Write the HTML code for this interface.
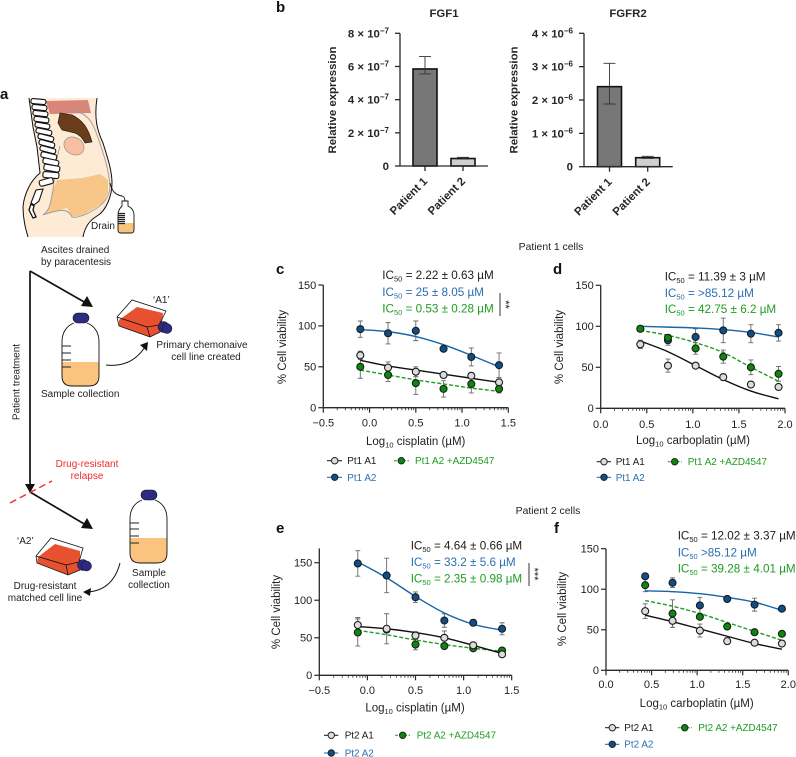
<!DOCTYPE html>
<html lang="en">
<head>
<meta charset="utf-8">
<title>FGF1 and FGFR2 expression and cell viability</title>
<style>
html,body{margin:0;padding:0;background:#fff;}
svg{display:block;font-family:"Liberation Sans",sans-serif;}
.t{font-size:10px;fill:#222;}
.tk{font-size:11px;fill:#222;}
.ax{font-size:11.5px;fill:#222;}
.ic{font-size:11.7px;}
.lg{font-size:9.9px;}
.pl{font-size:15px;font-weight:bold;fill:#111;}
.bb{font-size:11.4px;font-weight:bold;fill:#262626;}
.blk{fill:#1c1c1c;}.blu{fill:#2a6fb0;}.grn{fill:#1f9c22;}
</style>
</head>
<body>
<svg id="figure" width="796" height="757" viewBox="0 0 796 757" xmlns="http://www.w3.org/2000/svg">
<rect width="796" height="757" fill="#fff"/>

<!-- panel letters -->
<text class="pl" x="0" y="99">a</text>
<text class="pl" x="276" y="12">b</text>
<text class="pl" x="276" y="274">c</text>
<text class="pl" x="553" y="274">d</text>
<text class="pl" x="276" y="533">e</text>
<text class="pl" x="554" y="533">f</text>
<text class="t" style="font-size:10.4px" x="551" y="250" text-anchor="middle">Patient 1 cells</text>
<text class="t" style="font-size:10.4px" x="548" y="514" text-anchor="middle">Patient 2 cells</text>

<!-- panel a illustration -->
<g id="illustration">
  <path d="M29 98 L33 127 L37 147 L40 173 C31 180 24 194 23 207 C23 220 26 230 28 237 L83 237 C85 226 90 220 97 216 C106 211 112 196 112 183 C112 170 107 156 103 143 C97 130 94 118 97 98 Z" fill="#fdebd6"/>
  <path d="M57 180 L83 178 L100 174 L108 180 L108 193 L103 203 L83 215 L72 217 L67 208 L43 215 L50 207 L53 190 Z" fill="#f8c688"/>
  <path d="M46 101 L88 100 L91 113 L50 114 Z" fill="#d98578"/>
  <path d="M60 113 L72 115 C82 120 88 127 92 142 L85 143 C82 137 78 134 75 133 L62 130 L58 123 Z" fill="#6b3d1a" stroke="#222" stroke-width="0.7"/>
  <ellipse cx="74" cy="146" rx="10.5" ry="8.5" transform="rotate(30 74 146)" fill="#f7bfa2" stroke="#888" stroke-width="0.6"/>
  <path d="M70 110 C86 112 92 120 97 135 C104 155 109 170 110 187 C109 198 103 205 92 211 C83 216 76 218 72 217 C68 208 60 209 43 215 C51 209 50 203 53 190 L57 158 L60 146" fill="none" stroke="#9a9a9a" stroke-width="0.9"/>
  <path d="M29 98 L33 127 L37 147 L40 173 C31 180 24 194 23 207 C23 220 26 230 28 237" fill="none" stroke="#111" stroke-width="1"/>
  <path d="M83 237 C85 226 90 220 97 216 C106 211 112 196 112 183 C112 170 107 156 103 143 C97 130 94 118 97 98" fill="none" stroke="#111" stroke-width="1"/>
  <g fill="#fff" stroke="#111" stroke-width="1.1">
    <rect x="31" y="99" width="15" height="5" rx="2" transform="rotate(5 38 101)"/>
    <rect x="32" y="105" width="15" height="5" rx="2" transform="rotate(6 39 107)"/>
    <rect x="33" y="111" width="15" height="5" rx="2" transform="rotate(7 40 113)"/>
    <rect x="34" y="117" width="15" height="5" rx="2" transform="rotate(8 41 119)"/>
    <rect x="35" y="123" width="15" height="5" rx="2" transform="rotate(10 42 125)"/>
    <rect x="36" y="129" width="16" height="5" rx="2" transform="rotate(12 43 131)"/>
    <rect x="38" y="135" width="16" height="5" rx="2" transform="rotate(14 45 137)"/>
    <rect x="39" y="141" width="16" height="5" rx="2" transform="rotate(15 46 143)"/>
    <rect x="40" y="147" width="16" height="5" rx="2" transform="rotate(15 47 149)"/>
    <rect x="41" y="153" width="16" height="5.5" rx="2" transform="rotate(14 48 155)"/>
    <rect x="43" y="159" width="16" height="5.5" rx="2" transform="rotate(12 50 161)"/>
    <rect x="44" y="165" width="16" height="6" rx="2" transform="rotate(10 51 167)"/>
    <rect x="43" y="172" width="16" height="6" rx="2" transform="rotate(5 50 174)"/>
    <rect x="39" y="179" width="14" height="6" rx="2" transform="rotate(-15 46 181)"/>
    <path d="M43 189 L36 190 L31 203 L34 205 L39 201 Z"/>
    <path d="M31 204 L29 210 L33 218 L36 217 L33 210 L34 206 Z" stroke-width="1.3"/>
  </g>
  <path d="M110 183 C112 192 116 195 122 196 C125 197 125 200 125 203" fill="none" stroke="#111" stroke-width="0.9"/>
  <path d="M122 201 L128 201 L128 206 C132 208 134 211 134 215 L134 230 Q134 233 131 233 L121 233 Q118 233 118 230 L118 215 C118 211 120 208 122 206 Z" fill="#fff" stroke="#111" stroke-width="0.9"/>
  <path d="M118.5 223 L133.5 223 L133.5 230 Q133.5 232.5 131 232.5 L121 232.5 Q118.5 232.5 118.5 230 Z" fill="#f8c37a"/>
  <path d="M118 213.5 H125 M118 215.5 H125 M118 217.5 H125 M118 219.5 H125 M118 221.5 H125 M118 223.5 H125" stroke="#222" stroke-width="1.3"/>
  <text class="t" x="91" y="229">Drain</text>
  <text class="t" x="41" y="253">Ascites drained</text>
  <text class="t" x="41" y="265">by paracentesis</text>

  <path d="M30 271 L30 484" fill="none" stroke="#111" stroke-width="1.7"/>
  <path d="M30 271 L86 303" fill="none" stroke="#111" stroke-width="1.7"/>
  <path d="M93 307 L81 306 L87 296 Z" fill="#111"/>
  <path d="M25 484 L35 484 L30 493 Z" fill="#111"/>
  <path d="M30 492 L86 525" fill="none" stroke="#111" stroke-width="1.7"/>
  <path d="M93 529 L81 528 L87 518 Z" fill="#111"/>
  <path d="M10 503 L52 481" fill="none" stroke="#f02b2b" stroke-width="1.4" stroke-dasharray="7 4"/>
  <text class="t" transform="translate(19.5 382) rotate(-90)" text-anchor="middle">Patient treatment</text>
  <text class="t" x="87" y="467" text-anchor="middle" style="fill:#f02b2b">Drug-resistant</text>
  <text class="t" x="87" y="479" text-anchor="middle" style="fill:#f02b2b">relapse</text>

  <!-- first bottle -->
  <path d="M62 362 L99 362 L99 376 Q99 386 89 386 L72 386 Q62 386 62 376 Z" fill="#fbc47e"/>
  <path d="M74 323 C66 326 62 333 62 342 L62 376 Q62 386 72 386 L89 386 Q99 386 99 376 L99 342 C99 333 95 326 87 323" fill="none" stroke="#111" stroke-width="0.9"/>
  <rect x="73" y="313" width="16" height="10" rx="5" fill="#2d2a82" stroke="#111" stroke-width="0.6"/>
  <path d="M62 346 H71 M62 353 H71 M62 360 H71 M62 367 H71" stroke="#222" stroke-width="0.9"/>
  <text class="t" x="41" y="397">Sample collection</text>
  <path d="M106 365 Q131 368 145 347" fill="none" stroke="#111" stroke-width="1"/>
  <path d="M148 342 L147 351 L140 345 Z" fill="#111"/>

  <!-- flask A1 -->
  <path d="M119 320 L137 307 L163 313 L161 332 L150 337 L119 326 Z" fill="#e8512f"/>
  <path d="M117 317 L132 300 L166 311 L159 325 M117 317 L119 326 L150 337 L160 332 M117 317 L147 327 L150 337 M147 327 L159 325" fill="none" stroke="#111" stroke-width="0.8"/>
  <circle cx="163.5" cy="327" r="5.5" fill="#2d2a82" stroke="#111" stroke-width="0.5"/>
  <circle cx="167" cy="328.5" r="5" fill="#2d2a82" stroke="#111" stroke-width="0.5"/>
  <text class="t" x="153" y="303">‘A1’</text>
  <text class="t" x="202" y="348" text-anchor="middle">Primary chemonaive</text>
  <text class="t" x="206" y="360" text-anchor="middle">cell line created</text>

  <!-- second bottle -->
  <path d="M130 538 L167 538 L167 553 Q167 563 157 563 L140 563 Q130 563 130 553 Z" fill="#fbc47e"/>
  <path d="M142 500 C134 503 130 510 130 519 L130 553 Q130 563 140 563 L157 563 Q167 563 167 553 L167 519 C167 510 163 503 155 500" fill="none" stroke="#111" stroke-width="0.9"/>
  <rect x="141" y="490" width="16" height="10" rx="5" fill="#2d2a82" stroke="#111" stroke-width="0.6"/>
  <path d="M130 523 H139 M130 529 H139 M130 536 H139 M130 543 H139" stroke="#222" stroke-width="0.9"/>
  <text class="t" x="149" y="576" text-anchor="middle">Sample</text>
  <text class="t" x="149" y="588" text-anchor="middle">collection</text>
  <path d="M120 563 Q113 590 88 592" fill="none" stroke="#111" stroke-width="1"/>
  <path d="M83 592 L91 588 L90 596 Z" fill="#111"/>

  <!-- flask A2 -->
  <path d="M38 557 L55 544 L80 551 L80 570 L68 575 L37 563 Z" fill="#e8512f"/>
  <path d="M36 556 L51 538 L83 548 L79 562 M36 556 L37 563 L68 575 L80 570 M36 556 L66 565 L68 575 M66 565 L79 562" fill="none" stroke="#111" stroke-width="0.8"/>
  <circle cx="83" cy="565" r="5.5" fill="#2d2a82" stroke="#111" stroke-width="0.5"/>
  <circle cx="86.5" cy="566" r="5" fill="#2d2a82" stroke="#111" stroke-width="0.5"/>
  <text class="t" x="17" y="544">‘A2’</text>
  <text class="t" x="45" y="589" text-anchor="middle">Drug-resistant</text>
  <text class="t" x="45" y="601" text-anchor="middle">matched cell line</text>
</g>

<!-- panel b static text -->
<text class="bb" x="444" y="17" text-anchor="middle">FGF1</text>
<text class="bb" x="628" y="17" text-anchor="middle">FGFR2</text>
<text class="bb" transform="translate(336 100) rotate(-90)" text-anchor="middle">Relative expression</text>
<text class="bb" transform="translate(517.5 100) rotate(-90)" text-anchor="middle">Relative expression</text>
<g id="chart-fgf1"></g>
<g id="chart-fgfr2"></g>

<!-- panel c text -->
<text class="ic blk" x="382.3" y="279">IC<tspan font-size="7.5" dy="2.5">50</tspan><tspan dy="-2.5"> = 2.22 ± 0.63 µM</tspan></text>
<text class="ic blu" x="382.3" y="296">IC<tspan font-size="7.5" dy="2.5">50</tspan><tspan dy="-2.5"> = 25 ± 8.05 µM</tspan></text>
<text class="ic grn" x="382.3" y="312.7">IC<tspan font-size="7.5" dy="2.5">50</tspan><tspan dy="-2.5"> = 0.53 ± 0.28 µM</tspan></text>
<path d="M500 293 V316" stroke="#333" stroke-width="1"/>
<text class="tk" transform="translate(502 304.5) rotate(90)" text-anchor="middle">**</text>
<text class="ax" x="415.7" y="445" text-anchor="middle">Log<tspan font-size="7.5" dy="2.5">10</tspan><tspan dy="-2.5"> cisplatin (µM)</tspan></text>
<text class="ax" transform="translate(286 347) rotate(-90)" text-anchor="middle">% Cell viability</text>
<g id="chart-c"></g>
<g>
  <path d="M327 460.7 H342" stroke="#111" stroke-width="1"/><circle cx="334.7" cy="460.7" r="3.2" fill="#ddd" stroke="#222"/>
  <text class="lg blk" x="347.3" y="464">Pt1 A1</text>
  <path d="M327 477.3 H342" stroke="#1565a8" stroke-width="1"/><circle cx="334.7" cy="477.3" r="3.2" fill="#0d4f8b" stroke="#222"/>
  <text class="lg blu" x="347.3" y="481">Pt1 A2</text>
  <path d="M394 460.7 H409" stroke="#1f9c22" stroke-width="1" stroke-dasharray="3 1.5"/><circle cx="401.3" cy="460.7" r="3.2" fill="#0a8a0a" stroke="#222"/>
  <text class="lg grn" x="415" y="464">Pt1 A2 +AZD4547</text>
</g>

<!-- panel d text -->
<text class="ic blk" x="664.7" y="280.7">IC<tspan font-size="7.5" dy="2.5">50</tspan><tspan dy="-2.5"> = 11.39 ± 3 µM</tspan></text>
<text class="ic blu" x="664.7" y="297">IC<tspan font-size="7.5" dy="2.5">50</tspan><tspan dy="-2.5"> = &gt;85.12 µM</tspan></text>
<text class="ic grn" x="664.7" y="313">IC<tspan font-size="7.5" dy="2.5">50</tspan><tspan dy="-2.5"> = 42.75 ± 6.2 µM</tspan></text>
<text class="ax" x="693" y="444" text-anchor="middle">Log<tspan font-size="7.5" dy="2.5">10</tspan><tspan dy="-2.5"> carboplatin (µM)</tspan></text>
<text class="ax" transform="translate(563 347) rotate(-90)" text-anchor="middle">% Cell viability</text>
<g id="chart-d"></g>
<g>
  <path d="M596.7 461.7 H611" stroke="#111" stroke-width="1"/><circle cx="604" cy="461.7" r="3.2" fill="#ddd" stroke="#222"/>
  <text class="lg blk" x="615.7" y="465">Pt1 A1</text>
  <path d="M596.7 477.3 H611" stroke="#1565a8" stroke-width="1"/><circle cx="604" cy="477.3" r="3.2" fill="#0d4f8b" stroke="#222"/>
  <text class="lg blu" x="615.7" y="481">Pt1 A2</text>
  <path d="M667.7 461.7 H682" stroke="#1f9c22" stroke-width="1" stroke-dasharray="3 1.5"/><circle cx="674.7" cy="461.7" r="3.2" fill="#0a8a0a" stroke="#222"/>
  <text class="lg grn" x="687.7" y="465">Pt1 A2 +AZD4547</text>
</g>

<!-- panel e text -->
<text class="ic blk" x="410.7" y="549.3">IC<tspan font-size="7.5" dy="2.5">50</tspan><tspan dy="-2.5"> = 4.64 ± 0.66 µM</tspan></text>
<text class="ic blu" x="410.7" y="566">IC<tspan font-size="7.5" dy="2.5">50</tspan><tspan dy="-2.5"> = 33.2 ± 5.6 µM</tspan></text>
<text class="ic grn" x="410.7" y="582.7">IC<tspan font-size="7.5" dy="2.5">50</tspan><tspan dy="-2.5"> = 2.35 ± 0.98 µM</tspan></text>
<path d="M529 563 V586" stroke="#333" stroke-width="1"/>
<text class="tk" transform="translate(531 574) rotate(90)" text-anchor="middle">***</text>
<text class="ax" x="415" y="711.7" text-anchor="middle">Log<tspan font-size="7.5" dy="2.5">10</tspan><tspan dy="-2.5"> cisplatin (µM)</tspan></text>
<text class="ax" transform="translate(280 612) rotate(-90)" text-anchor="middle">% Cell viability</text>
<g id="chart-e"></g>
<g>
  <path d="M324 735.3 H338.3" stroke="#111" stroke-width="1"/><circle cx="331.3" cy="735.3" r="3.2" fill="#ddd" stroke="#222"/>
  <text class="lg blk" x="344.7" y="738.7">Pt2 A1</text>
  <path d="M324 753 H338.3" stroke="#1565a8" stroke-width="1"/><circle cx="331.3" cy="753" r="3.2" fill="#0d4f8b" stroke="#222"/>
  <text class="lg blu" x="344.7" y="756.5">Pt2 A2</text>
  <path d="M395 735.3 H410" stroke="#1f9c22" stroke-width="1" stroke-dasharray="3 1.5"/><circle cx="402.7" cy="735.3" r="3.2" fill="#0a8a0a" stroke="#222"/>
  <text class="lg grn" x="416.7" y="738.7">Pt2 A2 +AZD4547</text>
</g>

<!-- panel f text -->
<text class="ic blk" x="677.7" y="539.3">IC<tspan font-size="7.5" dy="2.5">50</tspan><tspan dy="-2.5"> = 12.02 ± 3.37 µM</tspan></text>
<text class="ic blu" x="677.7" y="556.7">IC<tspan font-size="7.5" dy="2.5">50</tspan><tspan dy="-2.5"> &gt;85.12 µM</tspan></text>
<text class="ic grn" x="677.7" y="572.7">IC<tspan font-size="7.5" dy="2.5">50</tspan><tspan dy="-2.5"> = 39.28 ± 4.01 µM</tspan></text>
<text class="ax" x="696.7" y="707" text-anchor="middle">Log<tspan font-size="7.5" dy="2.5">10</tspan><tspan dy="-2.5"> carboplatin (µM)</tspan></text>
<text class="ax" transform="translate(566 609) rotate(-90)" text-anchor="middle">% Cell viability</text>
<g id="chart-f"></g>
<g>
  <path d="M605 727.7 H619.3" stroke="#111" stroke-width="1"/><circle cx="612.3" cy="727.7" r="3.2" fill="#ddd" stroke="#222"/>
  <text class="lg blk" x="624.3" y="731">Pt2 A1</text>
  <path d="M605 744.3 H619.3" stroke="#1565a8" stroke-width="1"/><circle cx="612.3" cy="744.3" r="3.2" fill="#0d4f8b" stroke="#222"/>
  <text class="lg blu" x="624.3" y="747.7">Pt2 A2</text>
  <path d="M677.7 727.7 H692" stroke="#1f9c22" stroke-width="1" stroke-dasharray="3 1.5"/><circle cx="684.7" cy="727.7" r="3.2" fill="#0a8a0a" stroke="#222"/>
  <text class="lg grn" x="698.3" y="731">Pt2 A2 +AZD4547</text>
</g>
</svg>

<script>
// ---- panel b data ----
const barCategories = ['Patient 1', 'Patient 2'];
const fgf1Values = [5.85, 0.45];
const fgf1ErrHigh = [6.6, 0.52];
const fgf1ErrLow = [5.55, 0.42];
const fgf1TickValues = [0, 2, 4, 6, 8];
const fgf1TickExponent = '−7';
const fgfr2Values = [2.4, 0.27];
const fgfr2ErrHigh = [3.1, 0.31];
const fgfr2ErrLow = [1.88, 0.25];
const fgfr2TickValues = [0, 1, 2, 3, 4];
const fgfr2TickExponent = '−6';

// ---- viability data shared ticks ----
const viabilityTicks = [0, 50, 100, 150];
const cisplatinTicks = [-0.5, 0, 0.5, 1.0, 1.5];
const carboplatinTicks = [0, 0.5, 1.0, 1.5, 2.0];
const cisplatinDoses = [-0.1, 0.2, 0.5, 0.8, 1.1, 1.4];
const carboplatinDoses = [0.43, 0.73, 1.03, 1.33, 1.63, 1.93];

// ---- panel c ----
const cA1Mean = [64, 49, 44, 40, 39, 31];
const cA1Err = [5, 7, 6, 2, 3, 4];
const cA1Fit = [58, 51, 46, 41, 36, 31];
const cA2Mean = [96, 91, 94, 72, 62, 52];
const cA2Err = [10, 13, 12, 2, 11, 15];
const cA2Fit = [95.5, 93, 87, 77, 64, 50];
const cAzdMean = [50, 40, 30, 23, 29, 23];
const cAzdErr = [14, 8, 14, 10, 11, 5];
const cAzdFit = [46, 40, 34, 29, 24, 20];

// ---- panel d ----
const dA1Mean = [78, 52, 52, 38, 29, 26];
const dA1Err = [5, 8, 2, 4, 1, 2];
const dA1Fit = [82, 69, 52, 35, 21, 11.5];
const dA2Mean = [97, 83, 87, 95, 91, 92];
const dA2Err = [1, 6, 10, 15, 11, 10];
const dA2Fit = [100, 99, 98, 96, 92.5, 87];
const dAzdMean = [97, 86, 73, 63, 50, 42];
const dAzdErr = [1, 4, 7, 8, 9, 9];
const dAzdFit = [95, 89, 80, 68, 50, 33];

// ---- panel e ----
const eA1Mean = [67, 62, 53, 50, 40, 28];
const eA1Err = [10, 20, 5, 9, 4, 3];
const eA1Fit = [65, 62, 57, 50, 40, 29];
const eA2Mean = [149, 133, 104, 73, 70, 62];
const eA2Err = [17, 23, 7, 9, 4, 8];
const eA2Fit = [151, 130, 105, 83, 68, 60];
const eAzdMean = [57, 61, 41, 39, 36, 33];
const eAzdErr = [18, 4, 7, 4, 3, 2];
const eAzdFit = [60, 54, 47, 41, 36, 32];

// ---- panel f ----
const fA1Mean = [73, 61, 49, 36, 34, 33];
const fA1Err = [9, 8, 8, 4, 2, 3];
const fA1Fit = [68, 60, 51, 42, 33, 26];
const fA2Mean = [116, 108, 80, 88, 81, 76];
const fA2Err = [2, 6, 10, 2, 8, 2];
const fA2Fit = [98, 97, 94.5, 90, 84, 74];
const fAzdMean = [105, 70, 66, 54, 47, 45];
const fAzdErr = [8, 17, 3, 2, 3, 2];
const fAzdFit = [86, 79, 70, 59, 48, 37];

const SVGNS = 'http://www.w3.org/2000/svg';
const AXIS = '#2a2a2a';
const A1_STYLE = {key: 'a1', line: '#111', fill: '#dcdcdc', dash: ''};
const A2_STYLE = {key: 'a2', line: '#1565a8', fill: '#0d4f8b', dash: ''};
const AZD_STYLE = {key: 'azd', line: '#1f9c22', fill: '#0a8a0a', dash: '4 2'};

function mk(tag, parent, attrs) {
  const node = document.createElementNS(SVGNS, tag);
  for (const k in attrs) node.setAttribute(k, attrs[k]);
  parent.appendChild(node);
  return node;
}

function drawBarChart(id, prefix, values, hi, lo, ticks, exponent, L) {
  const g = document.getElementById(id);
  const yScale = v => L.y0 - (v / ticks[ticks.length - 1]) * (L.y0 - L.yTop);
  let el;
  values.forEach((v, i) => {
    const cx = L.centers[i];
    el = mk('rect', g, {x: cx - 12, y: yScale(v), width: 24, height: L.y0 - yScale(v), fill: i === 0 ? '#777' : '#cfcfcf', stroke: '#111', 'stroke-width': 1.6});
    
    
    el = mk('path', g, {d: `M${cx - 6} ${yScale(hi[i])} H${cx + 6} M${cx} ${yScale(hi[i])} V${yScale(lo[i])} M${cx - 6} ${yScale(lo[i])} H${cx + 6}`, fill: 'none', stroke: '#333', 'stroke-width': 0.9});
    
    
    el = mk('path', g, {d: `M${cx} ${L.y0} v5`, stroke: AXIS, 'stroke-width': 1.3});
    
    
    el = mk('text', g, {transform: `translate(${cx + 3} ${L.y0 + 16}) rotate(-45)`, 'text-anchor': 'end', class: 'bb'});
    el.textContent = barCategories[i];
    
    
  });
  el = mk('path', g, {d: `M${L.x0} ${L.yTop} V${L.y0} H${L.xEnd}`, fill: 'none', stroke: AXIS, 'stroke-width': 1.3});
  
  
  ticks.forEach(t => {
    el = mk('path', g, {d: `M${L.x0 - 5} ${yScale(t)} H${L.x0}`, stroke: AXIS, 'stroke-width': 1.3});
    
    
    el = mk('text', g, {x: L.x0 - 11, y: yScale(t) + 4, 'text-anchor': 'end', class: 'bb'});
    
    
    if (t === 0) {
      el.textContent = '0';
    } else {
      el.textContent = t + ' × 10';
      const sup = mk('tspan', el, {'font-size': 8, dy: -4});
      sup.textContent = exponent;
    }
  });
}

function smoothPath(pts) {
  let d = `M${pts[0][0]} ${pts[0][1]}`;
  for (let i = 0; i < pts.length - 1; i++) {
    const p0 = pts[Math.max(i - 1, 0)], p1 = pts[i], p2 = pts[i + 1], p3 = pts[Math.min(i + 2, pts.length - 1)];
    d += ` C${p1[0] + (p2[0] - p0[0]) / 6} ${p1[1] + (p2[1] - p0[1]) / 6} ${p2[0] - (p3[0] - p1[0]) / 6} ${p2[1] - (p3[1] - p1[1]) / 6} ${p2[0]} ${p2[1]}`;
  }
  return d;
}

function drawPanel(id, prefix, doses, xTicks, series, L) {
  const g = document.getElementById(id);
  const xScale = v => L.x0 + (v - L.xMin) / (L.xMax - L.xMin) * (L.x1 - L.x0);
  const yScale = v => L.y0 - v / 150 * (L.y0 - L.y150);
  let el;
  // axes
  el = mk('path', g, {d: `M${L.x0} ${yScale(L.yMax)} V${L.y0} H${L.x1}`, fill: 'none', stroke: AXIS, 'stroke-width': 1.3});
  
  
  viabilityTicks.forEach(t => {
    el = mk('path', g, {d: `M${L.x0 - 5} ${yScale(t)} H${L.x0}`, stroke: AXIS, 'stroke-width': 1.2});
    
    
    el = mk('text', g, {x: L.x0 - 7, y: yScale(t) + 3.8, 'text-anchor': 'end', class: 'tk'});
    el.textContent = String(t);
    
    
  });
  xTicks.forEach((t, i) => {
    el = mk('path', g, {d: `M${xScale(t)} ${L.y0} v5`, stroke: AXIS, 'stroke-width': 1.2});
    
    
    el = mk('text', g, {x: xScale(t), y: L.xLabelY, 'text-anchor': 'middle', class: 'tk'});
    el.textContent = (t < 0 ? '−' : '') + Math.abs(t).toFixed(1);
    
    
    if (i < xTicks.length - 1) {
      const step = xTicks[i + 1] - t;
      for (let k = 2; k < 10; k++) {
        el = mk('path', g, {d: `M${xScale(t + step * Math.log10(k))} ${L.y0} v2.5`, stroke: AXIS, 'stroke-width': 0.8});
        
        
      }
    }
  });
  // error bars first, then lines, then points per series
  series.forEach(s => {
    doses.forEach((d, i) => {
      const x = xScale(d), hi = yScale(s.mean[i] + s.err[i]), lo = yScale(s.mean[i] - s.err[i]);
      el = mk('path', g, {d: `M${x - 2.5} ${hi} H${x + 2.5} M${x} ${hi} V${lo} M${x - 2.5} ${lo} H${x + 2.5}`, fill: 'none', stroke: '#6a6a6a', 'stroke-width': 0.9});
      
      
    });
  });
  series.forEach(s => {
    const pts = doses.map((d, i) => [xScale(d), yScale(s.fit[i])]);
    el = mk('path', g, {d: smoothPath(pts), fill: 'none', stroke: s.style.line, 'stroke-width': 1.4, 'stroke-dasharray': s.style.dash});
    
    
  });
  series.forEach(s => {
    doses.forEach((d, i) => {
      el = mk('circle', g, {cx: xScale(d), cy: yScale(s.mean[i]), r: 3.5, fill: s.style.fill, stroke: '#1c1c1c', 'stroke-width': 1.1});
      
      
    });
  });
}

drawBarChart('chart-fgf1', 'fgf1', fgf1Values, fgf1ErrHigh, fgf1ErrLow, fgf1TickValues, fgf1TickExponent,
  {x0: 400, xEnd: 488, y0: 166, yTop: 33.3, centers: [425, 463]});
drawBarChart('chart-fgfr2', 'fgfr2', fgfr2Values, fgfr2ErrHigh, fgfr2ErrLow, fgfr2TickValues, fgfr2TickExponent,
  {x0: 584, xEnd: 672.7, y0: 166.7, yTop: 33.3, centers: [609.5, 647.7]});

drawPanel('chart-c', 'c', cisplatinDoses, cisplatinTicks, [
  {style: A1_STYLE, mean: cA1Mean, err: cA1Err, fit: cA1Fit},
  {style: AZD_STYLE, mean: cAzdMean, err: cAzdErr, fit: cAzdFit},
  {style: A2_STYLE, mean: cA2Mean, err: cA2Err, fit: cA2Fit}
], {x0: 323.3, x1: 508.3, xMin: -0.5, xMax: 1.5, y0: 407.7, y150: 285, yMax: 150, xLabelY: 426.7});

drawPanel('chart-d', 'd', carboplatinDoses, carboplatinTicks, [
  {style: A1_STYLE, mean: dA1Mean, err: dA1Err, fit: dA1Fit},
  {style: A2_STYLE, mean: dA2Mean, err: dA2Err, fit: dA2Fit},
  {style: AZD_STYLE, mean: dAzdMean, err: dAzdErr, fit: dAzdFit}
], {x0: 600.7, x1: 785, xMin: 0, xMax: 2, y0: 408.3, y150: 285.3, yMax: 150, xLabelY: 428});

drawPanel('chart-e', 'e', cisplatinDoses, cisplatinTicks, [
  {style: AZD_STYLE, mean: eAzdMean, err: eAzdErr, fit: eAzdFit},
  {style: A1_STYLE, mean: eA1Mean, err: eA1Err, fit: eA1Fit},
  {style: A2_STYLE, mean: eA2Mean, err: eA2Err, fit: eA2Fit}
], {x0: 319.3, x1: 511.7, xMin: -0.5, xMax: 1.5, y0: 675.3, y150: 562.7, yMax: 169, xLabelY: 694});

drawPanel('chart-f', 'f', carboplatinDoses, carboplatinTicks, [
  {style: A1_STYLE, mean: fA1Mean, err: fA1Err, fit: fA1Fit},
  {style: AZD_STYLE, mean: fAzdMean, err: fAzdErr, fit: fAzdFit},
  {style: A2_STYLE, mean: fA2Mean, err: fA2Err, fit: fA2Fit}
], {x0: 606, x1: 788.3, xMin: 0, xMax: 2, y0: 670.3, y150: 548.7, yMax: 150, xLabelY: 688});
</script>
</body>
</html>
